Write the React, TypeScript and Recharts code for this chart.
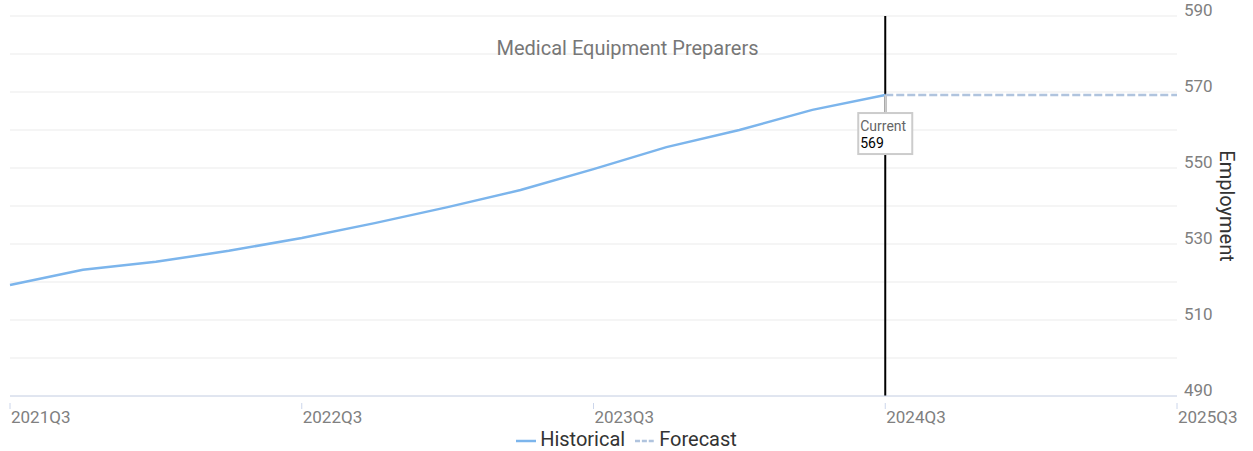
import { LineChart, Line, XAxis, YAxis, CartesianGrid, Legend, ReferenceLine, ReferenceDot } from 'recharts';

const quarters = [
  '2021Q3', '2021Q4', '2022Q1', '2022Q2', '2022Q3', '2022Q4', '2023Q1', '2023Q2', '2023Q3',
  '2023Q4', '2024Q1', '2024Q2', '2024Q3', '2024Q4', '2025Q1', '2025Q2', '2025Q3',
];
const historical = [519.2, 523.2, 525.3, 528.2, 531.6, 535.5, 539.7, 544.2, 549.7, 555.5, 560, 565.3, 569.2];
const forecast = [569.2, 569.2, 569.2, 569.2, 569.2];
const xTicks = [0, 4, 8, 12, 16];
const yTicks = [490, 500, 510, 520, 530, 540, 550, 560, 570, 580, 590];
const currentIndex = 12;
const currentValue = 569;

const data = quarters.map((q, i) => ({
  idx: i,
  label: q,
  historical: i < historical.length ? historical[i] : null,
  forecast: i >= currentIndex ? forecast[i - currentIndex] : null,
}));

const font = 'Roboto, "Open Sans", sans-serif';

function YTick({ x, y, payload }: any) {
  if ((payload.value - 490) % 20 !== 0) return null;
  return (
    <text x={x} y={y} fill="#808080" fontSize={17} fontFamily={font} textAnchor="start">
      {payload.value}
    </text>
  );
}

function XTick({ x, y, payload }: any) {
  return (
    <g>
      <line x1={x} y1={y - 1} x2={x} y2={y + 5} stroke="#ccd6eb" />
      <text x={x + 1} y={y + 19} fill="#808080" fontSize={17} fontFamily={font} textAnchor="start">
        {quarters[payload.value]}
      </text>
    </g>
  );
}

function CurrentBox({ cx, cy }: any) {
  const top = cy + 18;
  return (
    <g>
      <line x1={cx} y1={cy} x2={cx} y2={top} stroke="#ccc" strokeWidth={2} />
      <rect x={cx - 27} y={top} width={54} height={41} fill="#fff" stroke="#ccc" strokeWidth={2} />
      <text x={cx - 25} y={top + 18} fill="#666" fontSize={14} fontFamily={font}>Current</text>
      <text x={cx - 25} y={top + 35} fill="#000" fontSize={14} fontFamily={font}>{currentValue}</text>
    </g>
  );
}

function YLabel({ viewBox }: any) {
  const cx = 1227;
  const cy = viewBox.y + viewBox.height / 2;
  return (
    <text x={cx} y={cy} transform={`rotate(90 ${cx} ${cy})`} textAnchor="middle" dominantBaseline="central"
      fill="#333" fontSize={20} fontFamily={font}>
      Employment
    </text>
  );
}

const legendOrder = ['Historical', 'Forecast'];

export default function App() {
  return (
    <div style={{ position: 'absolute', left: 0, top: 0, width: 1253, height: 451 }}>
      <div style={{ position: 'absolute', left: 0, top: 36, width: 1255, textAlign: 'center', fontFamily: font, fontSize: 20, color: '#777', zIndex: 1 }}>
        Medical Equipment Preparers
      </div>
      <LineChart width={1253} height={451} data={data} margin={{ top: 16, right: 0, bottom: 0, left: 10 }}>
        <CartesianGrid vertical={false} stroke="#ebebeb" horizontalValues={yTicks} />
        <XAxis dataKey="idx" type="number" domain={[0, 16]} ticks={xTicks} tick={<XTick />} tickLine={false}
          axisLine={{ stroke: '#ccd6eb' }} height={25} interval={0} />
        <YAxis orientation="right" type="number" domain={[490, 590]} ticks={yTicks} tick={<YTick />} axisLine={false}
          tickLine={false} tickSize={0} tickMargin={7} width={76} interval={0} label={<YLabel />} />
        <Legend verticalAlign="bottom" height={30} iconSize={20}
          itemSorter={(item: any) => legendOrder.indexOf(item.value)}
          wrapperStyle={{ fontFamily: font, fontSize: 20, top: 427 }}
          formatter={(value: string) => <span style={{ color: '#333' }}>{value}</span>} />
        <ReferenceLine x={currentIndex} stroke="#000" strokeWidth={2} />
        <Line dataKey="historical" name="Historical" stroke="#7cb5ec" strokeWidth={2.5} dot={false}
          legendType="plainline" isAnimationActive={false} connectNulls={false} />
        <Line dataKey="forecast" name="Forecast" stroke="#b0c4de" strokeWidth={2.5} strokeDasharray="8 3" dot={false}
          legendType="plainline" isAnimationActive={false} connectNulls={false} />
        <ReferenceDot x={currentIndex} y={historical[currentIndex]} shape={<CurrentBox />} />
      </LineChart>
    </div>
  );
}
